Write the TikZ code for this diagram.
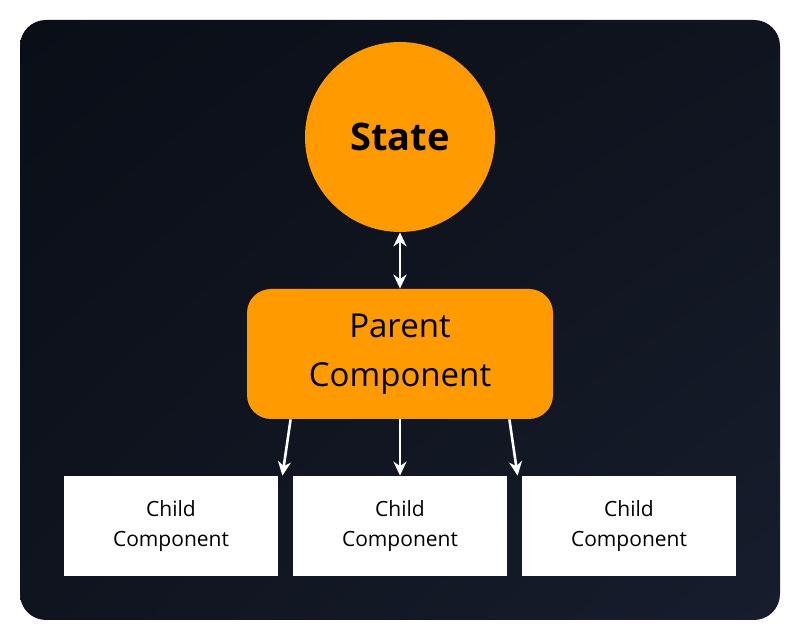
\documentclass[tikz,border=0pt]{standalone}
\usepackage{fontspec}
\setmainfont{Open Sans}
\usetikzlibrary{arrows.meta, shadings}

\definecolor{bgdark}{HTML}{0A0E17}
\definecolor{bgmid}{HTML}{10141F}
\definecolor{bglight}{HTML}{171D2D}
\definecolor{stateorange}{HTML}{FF9A00}

\begin{document}
\begin{tikzpicture}[x=0.5pt, y=-0.5pt,
    statecircle/.style={circle, fill=stateorange, minimum size=95pt, inner sep=0pt,
        font=\fontsize{19}{22}\selectfont\bfseries},
    parentbox/.style={rounded corners=12pt, fill=stateorange, minimum width=153pt,
        minimum height=65pt, align=center, font=\fontsize{16.5}{24.5}\selectfont},
    childbox/.style={fill=white, minimum width=107pt, minimum height=50pt,
        align=center, font=\fontsize{10.5}{15}\selectfont},
    link/.style={white, line width=1.3pt, -{Stealth[length=7pt, width=6.5pt]}}]
    \useasboundingbox (0,0) rectangle (800,640);
    \fill[white] (0,0) rectangle (800,640);
    \shade[rounded corners=13pt, upper left=bgdark, upper right=bgmid,
        lower left=bgmid, lower right=bglight] (20,20) rectangle (780,620);

    \node[statecircle] (state) at (400,137) {State};
    \node[parentbox] (parent) at (400,354) {Parent\\Component};

    \node[childbox] (childa) at (171,526) {Child\\Component};
    \node[childbox] (childb) at (400,526) {Child\\Component};
    \node[childbox] (childc) at (629,526) {Child\\Component};

    \draw[link, {Stealth[length=7pt, width=6.5pt]}-{Stealth[length=7pt, width=6.5pt]}]
        (state.south) -- (parent.north);
    \draw[link] ([xshift=22pt]parent.south west) -- ([xshift=2pt]childa.north east);
    \draw[link] (parent.south) -- (childb.north);
    \draw[link] ([xshift=-22pt]parent.south east) -- ([xshift=-2pt]childc.north west);
\end{tikzpicture}
\end{document}
